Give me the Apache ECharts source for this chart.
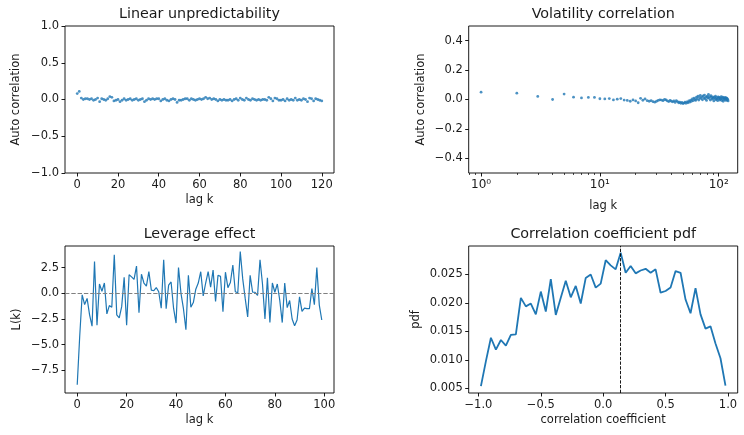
<!DOCTYPE html>
<html>
<head>
<meta charset="utf-8">
<script src="https://cdn.jsdelivr.net/npm/echarts@6/dist/echarts.min.js"></script>
<style>html,body{margin:0;padding:0;background:#fff;}#c{width:744px;height:435px;}</style>
</head>
<body>
<div id="c"></div>
<script>
// ---- Data ----
const linLags = Array.from({length: 121}, (_, i) => i);
const linAC = [
 0.08, 0.11, 0.02, 0.00, 0.01, 0.01, 0.00, 0.01, -0.01, 0.00,
 0.02, -0.03, 0.01, 0.00, -0.01, 0.01, 0.04, 0.03, -0.02, -0.01,
 0.00, -0.03, -0.01, 0.01, -0.01, 0.00, 0.01, -0.01, 0.00, 0.01,
 -0.01, 0.00, 0.01, -0.03, -0.01, 0.01, 0.00, 0.01, 0.00, 0.01,
 0.01, -0.02, 0.00, 0.01, -0.01, -0.02, 0.00, 0.01, 0.00, -0.04,
 -0.01, -0.01, 0.00, 0.01, 0.01, -0.01, 0.01, 0.00, -0.01, 0.00,
 0.01, 0.00, 0.01, 0.03, 0.01, 0.02, 0.00, 0.01, 0.00, -0.02,
 0.00, -0.01, 0.00, -0.01, -0.01, 0.00, -0.02, 0.00, 0.01, -0.01,
 0.02, 0.00, -0.01, 0.02, 0.00, -0.01, 0.01, 0.00, -0.01, 0.00,
 -0.01, 0.00, 0.00, -0.01, 0.03, 0.01, -0.02, 0.02, 0.01, -0.01,
 -0.01, 0.00, -0.02, 0.01, -0.01, 0.00, -0.01, 0.02, -0.01, 0.00,
 -0.01, 0.01, 0.00, -0.03, 0.02, 0.01, -0.02, 0.01, 0.00, -0.01,
 -0.02
];

const volLags = Array.from({length: 120}, (_, i) => i + 1);
const volAC = [
 0.050, 0.043, 0.021, 0.000, 0.037, 0.016, 0.011, 0.014, 0.014, 0.005,
 0.004, 0.006, -0.003, 0.002, 0.006, -0.004, -0.006, -0.012, -0.003, -0.010,
 -0.022, 0.008, -0.005, 0.004, -0.008, -0.012, -0.008, -0.015, -0.018, -0.012,
 -0.006, -0.002, -0.004, -0.008, 0.000, -0.003, -0.010, -0.014, -0.006, -0.012,
 -0.016, -0.010, -0.020, -0.008, -0.014, -0.022, -0.018, -0.026, -0.020, -0.028,
 -0.024, -0.018, -0.026, -0.016, -0.022, -0.010, -0.018, -0.004, -0.012, 0.004,
 -0.008, 0.010, 0.000, -0.006, 0.016, 0.004, 0.022, -0.004, 0.012, 0.028,
 0.006, 0.018, -0.002, 0.024, 0.010, 0.030, 0.004, 0.016, -0.006, 0.022,
 0.012, 0.034, 0.008, 0.020, -0.004, 0.026, 0.014, 0.002, 0.018, 0.008,
 -0.010, 0.016, 0.006, 0.022, -0.002, 0.012, 0.004, -0.008, 0.018, 0.006,
 0.014, -0.004, 0.010, 0.002, 0.020, -0.006, 0.008, 0.016, -0.012, 0.004,
 0.012, -0.002, 0.008, 0.014, -0.006, 0.006, 0.010, -0.004, 0.002, -0.010
];

const levLags = Array.from({length: 100}, (_, i) => i);
const levL = [
 -8.9, -4.2, -0.15, -1.1, -0.5, -2.1, -3.2, 3.1, -3.1, 0.9,
 0.2, 1.0, -2.0, -1.2, -1.35, 3.75, -2.1, -2.4, -1.3, 1.55,
 -3.1, 1.8, 1.6, 1.35, 2.65, -1.9, 1.85, 1.0, 0.7, 2.1,
 0.3, 0.25, 0.55, 0.15, -1.45, 3.25, -1.5, 0.8, 1.1, -1.45,
 -2.9, 2.5, 0.0, -1.5, -3.55, 1.75, -1.35, -0.9, 0.4, 1.0,
 2.1, -0.25, 1.0, 2.1, 0.6, 2.25, -0.8, 1.75, 1.65, -1.8,
 2.05, 0.55, 1.05, 2.75, 0.15, 0.05, 4.05, 1.4, -0.5, -2.3,
 1.75, 0.1, 0.1, -0.2, 3.25, 0.9, -2.5, 1.5, -2.85, 1.0,
 0.1, 0.9, -0.7, -2.85, 1.0, -1.4, -0.7, -2.5, -3.15, -2.6,
 -0.35, -1.75, -1.45, -1.5, -1.5, 0.45, -1.1, 2.5, -1.15, -2.6
];
const levZero = 0;

const ccBins = [
 -0.98, -0.94, -0.90, -0.86, -0.82, -0.78, -0.74, -0.70, -0.66, -0.62,
 -0.58, -0.54, -0.50, -0.46, -0.42, -0.38, -0.34, -0.30, -0.26, -0.22,
 -0.18, -0.14, -0.10, -0.06, -0.02, 0.02, 0.06, 0.10, 0.14, 0.18,
 0.22, 0.26, 0.30, 0.34, 0.38, 0.42, 0.46, 0.50, 0.54, 0.58,
 0.62, 0.66, 0.70, 0.74, 0.78, 0.82, 0.86, 0.90, 0.94, 0.98
];
const ccPdf = [
 0.0054, 0.0098, 0.0139, 0.0118, 0.0135, 0.0125, 0.0144, 0.0145, 0.0209, 0.0194,
 0.0199, 0.0180, 0.0220, 0.0185, 0.0242, 0.0179, 0.0209, 0.0239, 0.0210, 0.0230,
 0.0199, 0.0244, 0.0250, 0.0227, 0.0234, 0.0275, 0.0266, 0.0259, 0.0288, 0.0253,
 0.0265, 0.0252, 0.0257, 0.0260, 0.0253, 0.0259, 0.0218, 0.0221, 0.0227, 0.0256,
 0.0253, 0.0206, 0.0182, 0.0226, 0.0180, 0.0155, 0.0159, 0.0129, 0.0103, 0.0055
];
const ccMean = 0.136;

// tick labels
const linXTicks = [0, 20, 40, 60, 80, 100, 120];
const linYTicks = [-1.0, -0.5, 0.0, 0.5, 1.0];
const volYTicks = [-0.4, -0.2, 0.0, 0.2, 0.4];
const volMinorTicks = [0.8, 0.9, 2, 3, 4, 5, 6, 7, 8, 9, 20, 30, 40, 50, 60, 70, 80, 90];
const levXTicks = [0, 20, 40, 60, 80, 100];
const levYTicks = [-7.5, -5.0, -2.5, 0.0, 2.5];
const ccXTicks = [-1.0, -0.5, 0.0, 0.5, 1.0];
const ccYTicks = [0.005, 0.010, 0.015, 0.020, 0.025];

// ---- Styling ----
const FONT = 'DejaVu Sans';
const TXT = '#1a1a1a';
const BLUE = '#1f77b4';
const TICK_FS = 11.5;
const fmt = d => v => Number(v).toFixed(d).replace('-', '\u2212');
const sup = {0: '\u2070', 1: '\u00b9', 2: '\u00b2', 3: '\u00b3'};

const G = [
  {left: 65, top: 26, width: 269, height: 147},
  {left: 468.7, top: 26, width: 269, height: 147},
  {left: 65, top: 246, width: 269, height: 147},
  {left: 468.7, top: 246, width: 269, height: 147}
];

function baseAxis(extra) {
  return Object.assign({
    splitLine: {show: false},
    axisLine: {show: false, onZero: false},
    axisTick: {show: true, inside: false, length: 3.5, lineStyle: {color: '#000', width: 0.9}},
    axisLabel: {color: TXT, fontFamily: FONT, fontSize: TICK_FS, margin: 6},
    nameTextStyle: {color: TXT, fontFamily: FONT, fontSize: TICK_FS},
    nameLocation: 'middle'
  }, extra);
}
function withCustom(ax, ticks, d) {
  ax.axisTick.customValues = ticks;
  ax.axisLabel.customValues = ticks;
  ax.axisLabel.formatter = fmt(d);
  return ax;
}

const xAxes = [
  withCustom(baseAxis({gridIndex: 0, type: 'value', position: 'bottom', min: -6, max: 126, name: 'lag k', nameGap: 21}), linXTicks, 0),
  (function(){
    const a = baseAxis({gridIndex: 1, type: 'log', position: 'bottom', logBase: 10, min: 0.787, max: 144.5, name: 'lag k', nameGap: 27});
    a.axisLabel.showMinLabel = false;
    a.axisLabel.showMaxLabel = false;
    a.axisLabel.fontSize = 12;
    a.axisLabel.formatter = v => '10' + sup[Math.round(Math.log10(v))];
    return a;
  })(),
  (function(){
    const a = baseAxis({gridIndex: 1, type: 'log', position: 'bottom', logBase: 10, min: 0.787, max: 144.5});
    a.axisLabel = {show: false};
    a.axisTick = {show: true, length: 2, lineStyle: {color: '#000', width: 0.7}, customValues: volMinorTicks};
    return a;
  })(),
  withCustom(baseAxis({gridIndex: 2, type: 'value', position: 'bottom', min: -4.95, max: 103.95, name: 'lag k', nameGap: 21}), levXTicks, 0),
  withCustom(baseAxis({gridIndex: 3, type: 'value', position: 'bottom', min: -1.078, max: 1.078, name: 'correlation coefficient', nameGap: 21}), ccXTicks, 1)
];

const yAxes = [
  withCustom(baseAxis({gridIndex: 0, type: 'value', position: 'left', min: -1, max: 1, name: 'Auto correlation', nameGap: 43}), linYTicks, 1),
  withCustom(baseAxis({gridIndex: 1, type: 'value', position: 'left', min: -0.5, max: 0.5, name: 'Auto correlation', nameGap: 42}), volYTicks, 1),
  withCustom(baseAxis({gridIndex: 2, type: 'value', position: 'left', min: -9.7, max: 4.6, name: 'L(k)', nameGap: 42}), levYTicks, 1),
  withCustom(baseAxis({gridIndex: 3, type: 'value', position: 'left', min: 0.0042, max: 0.030, name: 'pdf', nameGap: 47}), ccYTicks, 3)
];

const titleTexts = ['Linear unpredictability', 'Volatility correlation', 'Leverage effect', 'Correlation coefficient pdf'];
const titles = titleTexts.map((t, i) => ({
  text: t,
  left: G[i].left + G[i].width / 2,
  top: G[i].top - 19,
  textAlign: 'center',
  padding: 0,
  textStyle: {color: TXT, fontFamily: FONT, fontSize: 14.3, fontWeight: 'normal'}
}));

const chart = echarts.init(document.getElementById('c'), null, {renderer: 'canvas'});
chart.setOption({
  animation: false,
  backgroundColor: '#fff',
  title: titles,
  grid: G.map(g => Object.assign({show: true, borderColor: '#000', borderWidth: 0.9, backgroundColor: 'transparent', containLabel: false}, g)),
  xAxis: xAxes,
  yAxis: yAxes,
  series: [
    {type: 'scatter', xAxisIndex: 0, yAxisIndex: 0, symbolSize: 2.8, itemStyle: {color: BLUE},
     data: linLags.map((k, i) => [k, linAC[i]])},
    {type: 'scatter', xAxisIndex: 1, yAxisIndex: 1, symbolSize: 2.8, itemStyle: {color: BLUE},
     data: volLags.map((k, i) => [k, volAC[i]])},
    {type: 'line', xAxisIndex: 3, yAxisIndex: 2, showSymbol: false, lineStyle: {color: BLUE, width: 1.2}, itemStyle: {color: BLUE},
     data: levLags.map((k, i) => [k, levL[i]]),
     markLine: {silent: true, symbol: 'none', label: {show: false},
       lineStyle: {color: '#808080', width: 1.2, type: [4.4, 1.9]}, data: [{yAxis: levZero}]}},
    {type: 'line', xAxisIndex: 4, yAxisIndex: 3, showSymbol: false, lineStyle: {color: BLUE, width: 1.8}, itemStyle: {color: BLUE},
     data: ccBins.map((x, i) => [x, ccPdf[i]]),
     markLine: {silent: true, symbol: 'none', label: {show: false},
       lineStyle: {color: '#000', width: 0.9, type: [3.3, 1.4]}, data: [{xAxis: ccMean}]}}
  ]
});
</script>
</body>
</html>
